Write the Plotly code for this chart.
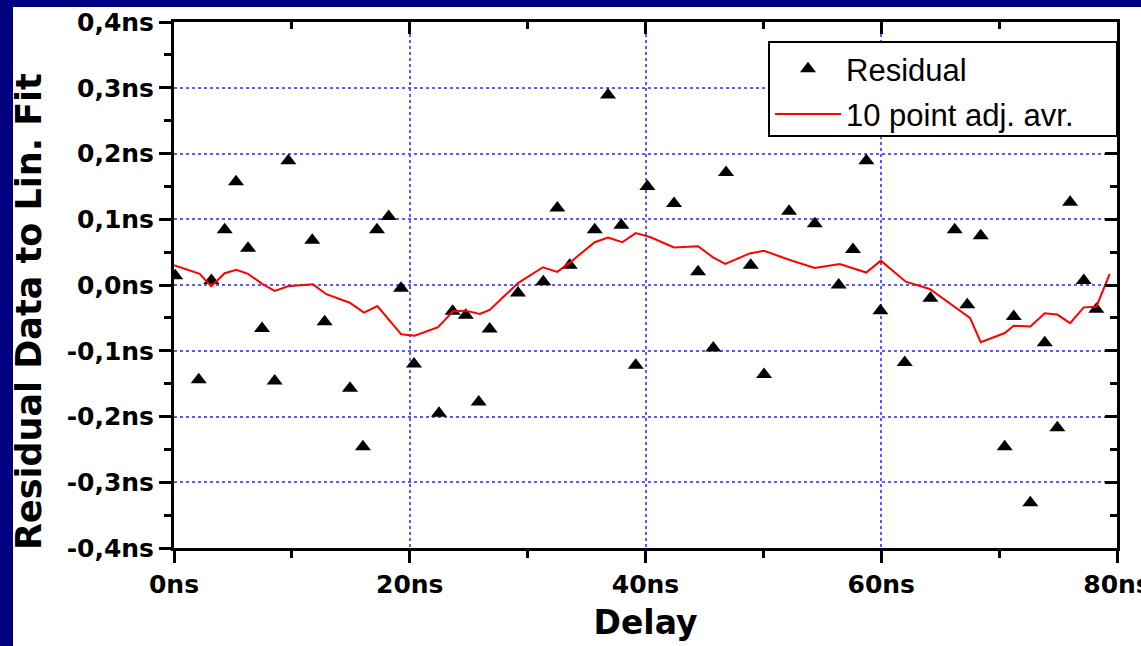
import plotly.graph_objects as go

# ---- data ----
delay_ns = [0.1, 2.1, 3.17, 4.3, 5.26, 6.28, 7.47, 8.54, 9.7, 11.73, 12.78, 14.93, 16.03, 17.22, 18.21,
            19.26, 20.36, 22.48, 23.64, 24.75, 25.85, 26.78, 29.18, 31.33, 32.52, 33.57, 35.69, 36.82,
            37.95, 39.17, 40.16, 42.42, 44.46, 45.75, 46.83, 48.93, 50.06, 52.18, 54.36, 56.39, 57.6,
            58.74, 59.93, 61.99, 64.17, 66.23, 67.3, 68.44, 70.47, 71.24, 72.65, 73.87, 74.94, 76.02,
            77.18, 78.25]
residual_ns = [0.014, -0.144, 0.007, 0.084, 0.157, 0.056, -0.066, -0.146, 0.189, 0.068, -0.056, -0.157,
               -0.246, 0.084, 0.104, -0.005, -0.120, -0.195, -0.040, -0.046, -0.178, -0.067, -0.012,
               0.005, 0.117, 0.030, 0.084, 0.289, 0.091, -0.122, 0.150, 0.124, 0.020, -0.096, 0.171,
               0.030, -0.136, 0.112, 0.093, 0.000, 0.054, 0.189, -0.039, -0.118, -0.020, 0.084, -0.030,
               0.075, -0.246, -0.048, -0.331, -0.088, -0.217, 0.126, 0.007, -0.037]

avg_delay_ns = [0, 2.18, 3.16, 4.30, 5.29, 6.28, 7.55, 8.54, 9.67, 10.75, 11.79, 12.92, 14.91, 16.12,
                17.25, 19.28, 20.42, 22.40, 23.67, 24.75, 25.94, 26.78, 29.18, 31.30, 32.52, 33.57,
                35.69, 36.82, 38.03, 39.17, 40.38, 42.42, 44.46, 45.73, 46.77, 48.84, 50.06, 52.18,
                54.36, 56.48, 58.73, 59.96, 62.08, 64.11, 66.23, 67.53, 68.44, 70.48, 71.24, 72.65,
                73.87, 74.94, 76.02, 77.18, 78.25, 79.38]
avg_ns = [0.030, 0.017, -0.002, 0.018, 0.023, 0.017, 0.001, -0.009, -0.002, 0.000, 0.001, -0.014,
          -0.027, -0.042, -0.032, -0.075, -0.077, -0.064, -0.040, -0.039, -0.044, -0.038, 0.003, 0.027,
          0.020, 0.034, 0.065, 0.072, 0.065, 0.079, 0.073, 0.057, 0.059, 0.042, 0.032, 0.048, 0.052,
          0.0385, 0.026, 0.032, 0.019, 0.037, 0.005, -0.006, -0.033, -0.050, -0.087, -0.073, -0.062,
          -0.063, -0.043, -0.045, -0.058, -0.034, -0.033, 0.017]

x_tickvals = [0, 20, 40, 60, 80]
x_ticktext = ["0ns", "20ns", "40ns", "60ns", "80ns"]
x_minor = [10, 30, 50, 70]
y_tickvals = [-0.4, -0.3, -0.2, -0.1, 0.0, 0.1, 0.2, 0.3, 0.4]
y_ticktext = ["-0,4ns", "-0,3ns", "-0,2ns", "-0,1ns", "0,0ns", "0,1ns", "0,2ns", "0,3ns", "0,4ns"]
y_minor = [-0.35, -0.25, -0.15, -0.05, 0.05, 0.15, 0.25, 0.35]

NAVY = "#000080"
GRID = "#5a5aff"
TICKFONT = dict(family="DejaVu Sans", size=25, color="black", weight="bold")

# plot-area geometry in pixels (used only for the decorative frame/legend box placement)
L, R, T, B = 174, 24, 22, 98
W, H = 1141 - L - R, 646 - T - B


def px_x(p):
    return (p - L) / W


def px_y(p):
    return (646 - B - p) / H


fig = go.Figure()
fig.add_trace(go.Scatter(
    x=delay_ns, y=residual_ns, mode="markers", name="Residual",
    marker=dict(symbol="triangle-up", size=14, color="black"),
    legendgroup="a"))
fig.add_trace(go.Scatter(
    x=avg_delay_ns, y=avg_ns, mode="lines", name="10 point adj. avr.",
    line=dict(color="#ff0000", width=2), legendgroup="b"))
# empty helper trace for the mirrored (top/right) axes
fig.add_trace(go.Scatter(x=[], y=[], xaxis="x2", yaxis="y2", showlegend=False, hoverinfo="skip"))

common = dict(showline=True, linecolor="black", linewidth=3, zeroline=False, automargin=False)

fig.update_layout(
    width=1141, height=646,
    margin=dict(l=L, r=R, t=T, b=B, pad=0, autoexpand=False),
    paper_bgcolor="white", plot_bgcolor="white",
    showlegend=True,
    xaxis=dict(range=[0, 80], tickmode="array", tickvals=x_tickvals, ticktext=x_ticktext,
               ticks="outside", ticklen=12, tickwidth=3, tickcolor="black",
               ticklabeloverflow="allow",
               minor=dict(tickmode="array", tickvals=x_minor, ticks="outside",
                          ticklen=7, tickwidth=3, tickcolor="black", showgrid=False),
               showgrid=True, gridcolor=GRID, griddash="dot", gridwidth=1.5,
               tickfont=TICKFONT,
               title=dict(text="Delay", font=dict(family="DejaVu Sans", size=33, color="black",
                                                  weight="bold"), standoff=13),
               **common),
    yaxis=dict(range=[-0.4, 0.4], tickmode="array", tickvals=y_tickvals, ticktext=y_ticktext,
               ticks="outside", ticklen=12, tickwidth=3, tickcolor="black",
               minor=dict(tickmode="array", tickvals=y_minor,
                          ticks="outside", ticklen=7, tickwidth=3, tickcolor="black", showgrid=False),
               showgrid=True, gridcolor=GRID, griddash="dot", gridwidth=1.5,
               tickfont=TICKFONT, **common),
    xaxis2=dict(range=[0, 80], overlaying="x", side="top", anchor="y2",
                tickmode="array", tickvals=x_tickvals, ticks="inside", ticklen=12, tickwidth=3,
                tickcolor="black", showticklabels=False, showgrid=False,
                minor=dict(tickmode="array", tickvals=x_minor, ticks="inside",
                           ticklen=7, tickwidth=3, tickcolor="black", showgrid=False),
                **common),
    yaxis2=dict(range=[-0.4, 0.4], overlaying="y", side="right", anchor="x2",
                tickmode="array", tickvals=y_tickvals, ticks="inside", ticklen=12, tickwidth=3,
                tickcolor="black", showticklabels=False, showgrid=False,
                minor=dict(tickmode="array", tickvals=y_minor,
                           ticks="inside", ticklen=7, tickwidth=3, tickcolor="black", showgrid=False),
                **common),
    legend=dict(x=px_x(770), xanchor="left", y=px_y(42), yanchor="top",
                bgcolor="rgba(0,0,0,0)", borderwidth=0,
                font=dict(family="Liberation Sans", size=31, color="black"),
                itemwidth=66, tracegroupgap=2),
    annotations=[dict(text="Residual Data to Lin. Fit", textangle=-90,
                      xref="paper", yref="paper", x=px_x(29), y=px_y(312),
                      xanchor="center", yanchor="middle", showarrow=False,
                      font=dict(family="DejaVu Sans", size=35, color="black", weight="bold"))],
    shapes=[
        # legend frame
        dict(type="rect", xref="paper", yref="paper", x0=px_x(769), x1=1.0,
             y0=px_y(136), y1=px_y(42), fillcolor="white",
             line=dict(color="black", width=2), layer="above"),
        # navy slide border (top and left)
        dict(type="rect", xref="paper", yref="paper", x0=px_x(-2), x1=px_x(1143),
             y0=px_y(7), y1=px_y(-2), fillcolor=NAVY, line=dict(width=0), layer="above"),
        dict(type="rect", xref="paper", yref="paper", x0=px_x(-2), x1=px_x(13),
             y0=px_y(648), y1=px_y(-2), fillcolor=NAVY, line=dict(width=0), layer="above"),
    ],
)

fig.write_html("out.html")
